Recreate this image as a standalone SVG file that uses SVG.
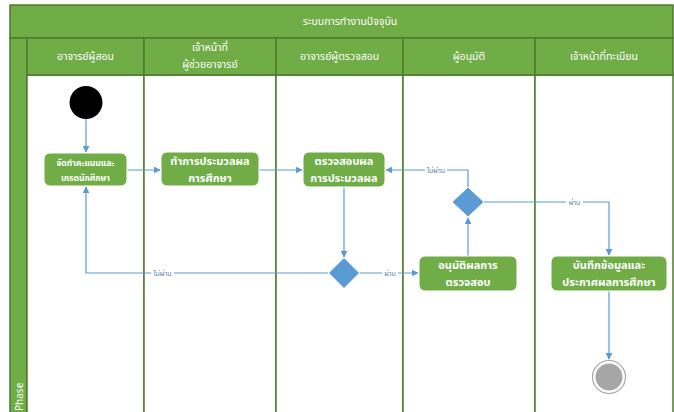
<svg xmlns="http://www.w3.org/2000/svg" width="674" height="412" viewBox="0 0 674 412">
<defs>
<style>
.t{font-family:"Noto Sans Thai","Leelawadee UI",Tahoma,"Liberation Sans","DejaVu Sans",sans-serif;fill:#fff;text-anchor:middle}
.hd{font-size:10.5px}
.nd{font-size:11px;font-weight:bold}
.nds{font-size:8.5px;font-weight:bold}
.lbl{font-family:"Noto Sans Thai","Leelawadee UI",Tahoma,"Liberation Sans",sans-serif;font-size:7px;fill:#5b7fa8;text-anchor:middle}
.band{fill:#70ad47;stroke:#4e7a2e;stroke-width:1.5}
.lane{fill:#fff;stroke:#4e7a2e;stroke-width:1.5}
.node{fill:#70ad47;stroke:#fff;stroke-width:1}
.dia{fill:#5b9bd5;stroke:#fff;stroke-width:1}
.c{fill:none;stroke:#5b9bd5;stroke-width:1.2}
.lb{fill:#fff}
</style>
<marker id="ar" viewBox="0 0 10 10" refX="9" refY="5" markerWidth="7" markerHeight="7" orient="auto" markerUnits="userSpaceOnUse">
<path d="M0,0 L10,5 L0,10 z" fill="#5b9bd5"/>
</marker>
</defs>
<rect width="674" height="412" fill="#fff"/>
<g id="pool">
<rect class="band" x="10" y="5" width="663" height="33"/>
<text class="t hd" x="350" y="25">ระบบการทำงานปัจจุบัน</text>
<rect class="band" x="10" y="38" width="17" height="380"/>
<text class="t" style="font-size:10px;text-anchor:start" transform="translate(22.5,411) rotate(-90)">Phase</text>
</g>
<g id="lane1">
<rect class="lane" x="27" y="75" width="117" height="345"/>
<rect class="band" x="27" y="38" width="117" height="37"/>
<text class="t hd" x="85.5" y="60">อาจารย์ผู้สอน</text>
</g>
<g id="lane2">
<rect class="lane" x="144" y="75" width="132" height="345"/>
<rect class="band" x="144" y="38" width="132" height="37"/>
<text class="t hd" x="210" y="51">เจ้าหน้าที่</text>
<text class="t hd" x="210" y="68">ผู้ช่วยอาจารย์</text>
</g>
<g id="lane3">
<rect class="lane" x="276" y="75" width="127" height="345"/>
<rect class="band" x="276" y="38" width="127" height="37"/>
<text class="t hd" x="339.5" y="60">อาจารย์ผู้ตรวจสอบ</text>
</g>
<g id="lane4">
<rect class="lane" x="403" y="75" width="132" height="345"/>
<rect class="band" x="403" y="38" width="132" height="37"/>
<text class="t hd" x="469" y="60">ผู้อนุมัติ</text>
</g>
<g id="lane5">
<rect class="lane" x="535" y="75" width="138" height="345"/>
<rect class="band" x="535" y="38" width="138" height="37"/>
<text class="t hd" x="604" y="60">เจ้าหน้าที่ทะเบียน</text>
</g>
<g id="connectors">
<path class="c" d="M86,119 V152" marker-end="url(#ar)"/>
<path class="c" d="M127,170 H160" marker-end="url(#ar)"/>
<path class="c" d="M259,170 H302" marker-end="url(#ar)"/>
<path class="c" d="M344,187 V257" marker-end="url(#ar)"/>
<path class="c" d="M328,273 H86 V187" marker-end="url(#ar)"/>
<path class="c" d="M359,273 H418" marker-end="url(#ar)"/>
<path class="c" d="M468,256 V218" marker-end="url(#ar)"/>
<path class="c" d="M468,187 V170 H386" marker-end="url(#ar)"/>
<path class="c" d="M484,202 H609 V255" marker-end="url(#ar)"/>
<path class="c" d="M609,291 V359" marker-end="url(#ar)"/>
<rect class="lb" x="151" y="269" width="23" height="8"/>
<text class="lbl" x="162.5" y="275.5">ไม่ผ่าน</text>
<rect class="lb" x="382" y="269" width="16" height="8"/>
<text class="lbl" x="390" y="275.5">ผ่าน</text>
<rect class="lb" x="425" y="166" width="22" height="8"/>
<text class="lbl" x="436" y="172.5">ไม่ผ่าน</text>
<rect class="lb" x="566" y="198" width="17" height="8"/>
<text class="lbl" x="574.5" y="204.5">ผ่าน</text>
</g>
<g id="start">
<circle cx="86" cy="102.5" r="16.5" fill="#000"/>
</g>
<g id="n1">
<rect class="node" x="44" y="153" width="83" height="33" rx="6"/>
<text class="t nds" x="85.5" y="166">จัดทำคะแนนและ</text>
<text class="t nds" x="85.5" y="181">เกรดนักศึกษา</text>
</g>
<g id="n2">
<rect class="node" x="161" y="152" width="98" height="34" rx="6"/>
<text class="t nd" x="210" y="165">ทำการประมวลผล</text>
<text class="t nd" x="210" y="181.5">การศึกษา</text>
</g>
<g id="n3">
<rect class="node" x="303" y="152" width="82" height="35" rx="6"/>
<text class="t nd" x="344" y="165">ตรวจสอบผล</text>
<text class="t nd" x="344" y="181.5">การประมวลผล</text>
</g>
<g id="d1">
<path class="dia" d="M468,187 L484,202 L468,217 L452,202 z"/>
</g>
<g id="d2">
<path class="dia" d="M344,257.5 L359.5,273 L344,288.5 L328.5,273 z"/>
</g>
<g id="n4">
<rect class="node" x="419" y="256" width="98" height="35" rx="6"/>
<text class="t nd" x="468" y="269">อนุมัติผลการ</text>
<text class="t nd" x="468" y="285.5">ตรวจสอบ</text>
</g>
<g id="n5">
<rect class="node" x="551" y="256" width="116" height="35" rx="6"/>
<text class="t nd" x="609" y="269">บันทึกข้อมูลและ</text>
<text class="t nd" x="609" y="285.5">ประกาศผลการศึกษา</text>
</g>
<g id="end">
<circle cx="609" cy="377" r="16.5" fill="#fff" stroke="#a6a6a6" stroke-width="1.2"/>
<circle cx="609" cy="377" r="13.5" fill="#a6a6a6"/>
</g>
</svg>
